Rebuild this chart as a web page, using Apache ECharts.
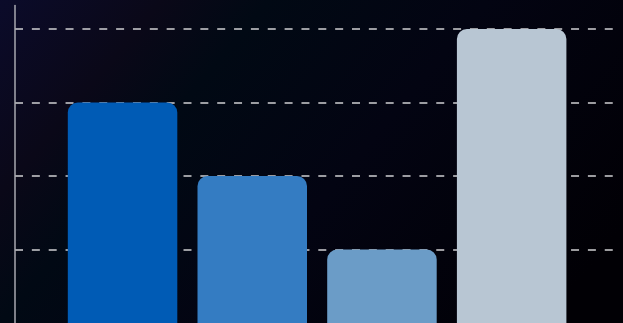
<!DOCTYPE html>
<html>
<head>
<meta charset="utf-8">
<style>
html,body{margin:0;padding:0;background:#000;}
#chart{width:623px;height:323px;}
</style>
<script src="https://cdn.jsdelivr.net/npm/echarts@6/dist/echarts.min.js"></script>
</head>
<body>
<div id="chart"></div>
<script>
const categories = ['A', 'B', 'C', 'D'];
const values = [3, 2, 1, 4];
const barColors = ['#005BB5', '#347CC2', '#6B9CC7', '#B8C6D3'];
const yMin = 0;
const yMax = 4.32;
const yInterval = 1;

const chart = echarts.init(document.getElementById('chart'), null, {renderer: 'canvas'});
chart.setOption({
  animation: false,
  backgroundColor: {
    type: 'linear', x: 0, y: 0, x2: 480, y2: 400, global: true,
    colorStops: [
      {offset: 0, color: '#0b0b2a'},
      {offset: 0.2, color: '#0a0818'},
      {offset: 0.33, color: '#010914'},
      {offset: 0.6, color: '#030412'},
      {offset: 1, color: '#010005'}
    ]
  },
  grid: [
    {left: 15, right: 5, top: 5.5, bottom: -2.5},
    {left: 57.7, right: 46.5, top: 5.5, bottom: -2.5}
  ],
  xAxis: [
    {type: 'category', gridIndex: 0, data: categories, show: false},
    {type: 'category', gridIndex: 1, data: categories, show: false}
  ],
  yAxis: [
    {
      type: 'value', gridIndex: 0, min: yMin, max: yMax, interval: yInterval,
      axisLine: {show: true, lineStyle: {color: '#a8a8b0', width: 1.5}},
      axisTick: {show: false},
      axisLabel: {show: false},
      splitLine: {
        show: true, showMinLine: false, showMaxLine: false,
        lineStyle: {color: '#cfcfd2', width: 1.6, type: [8, 8.85]}
      }
    },
    {type: 'value', gridIndex: 1, min: yMin, max: yMax, interval: yInterval, show: false, splitLine: {show: false}}
  ],
  series: [{
    type: 'bar',
    xAxisIndex: 1,
    yAxisIndex: 1,
    barWidth: 109.5,
    data: values.map((v, i) => ({value: v, itemStyle: {color: barColors[i]}})),
    itemStyle: {borderRadius: [10, 10, 0, 0]}
  }]
});
</script>
</body>
</html>
